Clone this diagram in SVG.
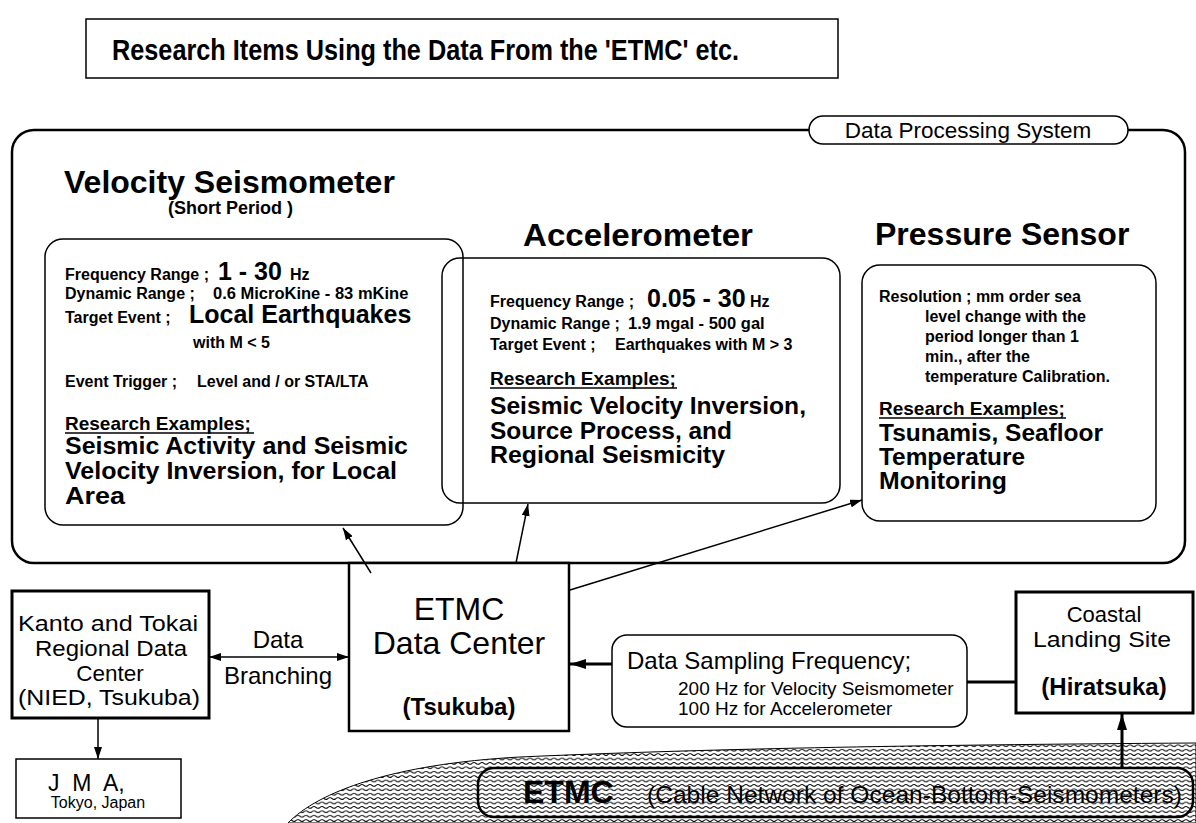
<svg xmlns="http://www.w3.org/2000/svg" width="1196" height="823" viewBox="0 0 1196 823">
<style>
text{font-family:"Liberation Sans",Arial,Helvetica,sans-serif;fill:#000}
.b{font-weight:bold}
.s{font-size:16px;font-weight:bold}
.r{font-size:23.5px;font-weight:bold}
.re{font-size:19px;font-weight:bold}
.k{font-size:22.5px}
.box{fill:none;stroke:#000;stroke-width:1.5}
.thick{fill:#fff;stroke:#000;stroke-width:3}
.ln{stroke:#000;stroke-width:1.5;fill:none}
.ul{stroke:#000;stroke-width:1.3}
</style>
<defs>
<marker id="ah" viewBox="0 0 12 8" refX="12" refY="4" markerWidth="12" markerHeight="8" markerUnits="userSpaceOnUse" orient="auto-start-reverse"><path d="M0,0 L12,4 L0,8 z" fill="#000"/></marker>
<marker id="ahT" viewBox="0 0 16 10" refX="16" refY="5" markerWidth="16" markerHeight="10" markerUnits="userSpaceOnUse" orient="auto"><path d="M0,0 L16,5 L0,10 z" fill="#000"/></marker>
<pattern id="wave" width="8" height="4.4" patternUnits="userSpaceOnUse"><path d="M0 2.2 Q2 0.5 4 2.2 T8 2.2" fill="none" stroke="#000" stroke-width="0.9"/></pattern>
</defs>
<rect width="1196" height="823" fill="#fff"/>

<g id="title">
<rect x="86" y="19" width="752" height="59" class="box"/>
<text x="112" y="60" class="b" font-size="30" textLength="627" lengthAdjust="spacingAndGlyphs">Research Items Using the Data From the 'ETMC' etc.</text>
</g>

<g id="data-processing-system">
<rect x="12" y="130" width="1173" height="433" rx="22" fill="none" stroke="#000" stroke-width="2.5"/>
<rect x="809" y="116" width="319" height="28" rx="14" fill="#fff" stroke="#000" stroke-width="1.5"/>
<text x="968" y="138" text-anchor="middle" font-size="22.5">Data Processing System</text>
</g>

<g id="velocity-seismometer">
<text x="64" y="193" class="b" font-size="32">Velocity Seismometer</text>
<text x="168" y="214" class="b" font-size="18">(Short Period )</text>
<rect x="45" y="239" width="418" height="286" rx="18" class="box"/>
<text x="65" y="280" class="s">Frequency Range ; <tspan x="218" font-size="25">1 - 30</tspan><tspan x="290">Hz</tspan></text>
<text x="65" y="299" class="s">Dynamic Range ; <tspan x="213" font-size="16.5">0.6 MicroKine - 83 mKine</tspan></text>
<text x="65" y="323" class="s">Target Event ; <tspan x="189" font-size="25">Local Earthquakes</tspan></text>
<text x="193" y="348" class="s" font-size="15">with M &lt; 5</text>
<text x="65" y="387" class="s">Event Trigger ; <tspan x="197">Level and / or STA/LTA</tspan></text>
<text x="65" y="430" class="re">Research Examples;</text>
<line x1="65" y1="433" x2="254" y2="433" class="ul"/>
<text x="65" y="454" class="r" textLength="343" lengthAdjust="spacingAndGlyphs">Seismic Activity and Seismic</text>
<text x="65" y="479" class="r" textLength="332" lengthAdjust="spacingAndGlyphs">Velocity Inversion, for Local</text>
<text x="65" y="504" class="r" textLength="60" lengthAdjust="spacingAndGlyphs">Area</text>
</g>

<g id="accelerometer">
<text x="523" y="246" class="b" font-size="31" textLength="230" lengthAdjust="spacingAndGlyphs">Accelerometer</text>
<rect x="442" y="258" width="398" height="245" rx="18" class="box"/>
<text x="490" y="307" class="s">Frequency Range ; <tspan x="647" font-size="25">0.05 - 30</tspan><tspan x="750">Hz</tspan></text>
<text x="490" y="329" class="s">Dynamic Range ; <tspan x="628" font-size="16.5">1.9 mgal - 500 gal</tspan></text>
<text x="490" y="350" class="s">Target Event ; <tspan x="615">Earthquakes with M &gt; 3</tspan></text>
<text x="490" y="385" class="re">Research Examples;</text>
<line x1="490" y1="388" x2="677" y2="388" class="ul"/>
<text x="490" y="414" class="r" textLength="316" lengthAdjust="spacingAndGlyphs">Seismic Velocity Inversion,</text>
<text x="490" y="439" class="r" textLength="242" lengthAdjust="spacingAndGlyphs">Source Process, and</text>
<text x="490" y="463" class="r" textLength="235" lengthAdjust="spacingAndGlyphs">Regional Seismicity</text>
</g>

<g id="pressure-sensor">
<text x="875" y="245" class="b" font-size="32">Pressure Sensor</text>
<rect x="862" y="265" width="294" height="256" rx="18" class="box"/>
<text x="879" y="302" class="s">Resolution ; mm order sea</text>
<text x="925" y="322" class="s">level change with the</text>
<text x="925" y="342" class="s">period longer than 1</text>
<text x="925" y="362" class="s">min., after the</text>
<text x="925" y="382" class="s">temperature Calibration.</text>
<text x="879" y="415" class="re">Research Examples;</text>
<line x1="879" y1="418" x2="1066" y2="418" class="ul"/>
<text x="879" y="441" class="r" textLength="224" lengthAdjust="spacingAndGlyphs">Tsunamis, Seafloor</text>
<text x="879" y="465" class="r" textLength="146" lengthAdjust="spacingAndGlyphs">Temperature</text>
<text x="879" y="489" class="r" textLength="128" lengthAdjust="spacingAndGlyphs">Monitoring</text>
</g>

<g id="etmc-cable">
<path d="M288 823 C318 792 392 764 520 757 C700 749 900 745 1196 743 L1196 823 Z" fill="url(#wave)" stroke="#000" stroke-width="1"/>
<rect x="478" y="768" width="715" height="49" rx="16" fill="none" stroke="#000" stroke-width="2.5"/>
<text x="523" y="803" class="b" font-size="32">ETMC</text>
<text x="647" y="803" font-size="24" textLength="535" lengthAdjust="spacingAndGlyphs">(Cable Network of Ocean-Bottom-Seismometers)</text>
</g>

<g id="etmc-data-center">
<rect x="349" y="563" width="220" height="168" fill="#fff" stroke="#000" stroke-width="2.5"/>
<text x="459" y="620" text-anchor="middle" font-size="32">ETMC</text>
<text x="459" y="654" text-anchor="middle" font-size="32">Data Center</text>
<text x="459" y="715" text-anchor="middle" class="b" font-size="24">(Tsukuba)</text>
</g>

<g id="kanto-tokai">
<rect x="12" y="591" width="197" height="127" class="thick"/>
<text x="18" y="631" class="k" textLength="180" lengthAdjust="spacingAndGlyphs">Kanto and Tokai</text>
<text x="35" y="656" class="k" textLength="152" lengthAdjust="spacingAndGlyphs">Regional Data</text>
<text x="110" y="681" text-anchor="middle" class="k">Center</text>
<text x="18" y="705" class="k" textLength="182" lengthAdjust="spacingAndGlyphs">(NIED, Tsukuba)</text>
</g>

<g id="jma">
<rect x="16" y="759" width="165" height="59" fill="#fff" stroke="#000" stroke-width="1.5"/>
<text x="48" y="791" font-size="23" xml:space="preserve">J  M  A,</text>
<text x="98" y="808" text-anchor="middle" font-size="16">Tokyo, Japan</text>
</g>

<g id="data-sampling">
<rect x="612" y="635" width="355" height="92" rx="15" fill="#fff" stroke="#000" stroke-width="1.5"/>
<text x="627" y="669" font-size="24">Data Sampling Frequency;</text>
<text x="678" y="695" font-size="19">200 Hz for Velocity Seismometer</text>
<text x="678" y="715" font-size="19">100 Hz for Accelerometer</text>
</g>

<g id="coastal-landing-site">
<rect x="1016" y="592" width="177" height="121" class="thick"/>
<text x="1104" y="622" text-anchor="middle" font-size="22">Coastal</text>
<text x="1033" y="647" font-size="22" textLength="138" lengthAdjust="spacingAndGlyphs">Landing Site</text>
<text x="1104" y="695" text-anchor="middle" class="b" font-size="24">(Hiratsuka)</text>
</g>

<g id="connectors">
<line x1="371" y1="573" x2="343" y2="528" class="ln" marker-end="url(#ah)"/>
<line x1="516" y1="563" x2="528" y2="504" class="ln" marker-end="url(#ah)"/>
<line x1="570" y1="590" x2="862" y2="500" class="ln" marker-end="url(#ah)"/>
<line x1="209" y1="657" x2="349" y2="657" class="ln" marker-start="url(#ah)" marker-end="url(#ah)"/>
<line x1="98" y1="718" x2="98" y2="759" class="ln" marker-end="url(#ah)"/>
<line x1="612" y1="664" x2="570" y2="664" stroke="#000" stroke-width="3" marker-end="url(#ahT)"/>
<line x1="967" y1="682" x2="1016" y2="682" stroke="#000" stroke-width="3"/>
<line x1="1122" y1="768" x2="1122" y2="714" stroke="#000" stroke-width="3" marker-end="url(#ahT)"/>
<text x="278" y="648" text-anchor="middle" font-size="24">Data</text>
<text x="278" y="684" text-anchor="middle" font-size="24">Branching</text>
</g>
</svg>
